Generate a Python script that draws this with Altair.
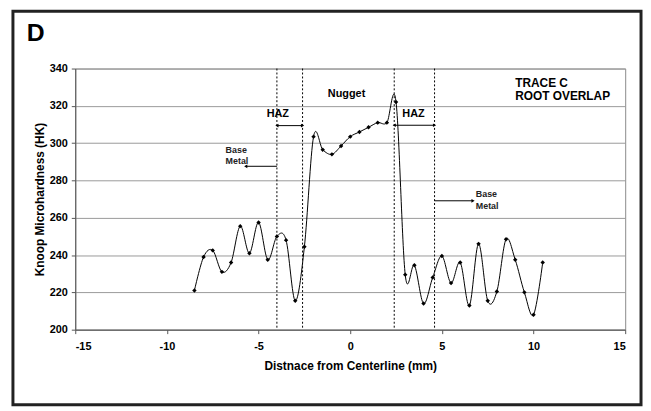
import altair as alt
import pandas as pd

# ---- data ----
x_mm = [-8.5, -8.0, -7.5, -7.0, -6.5, -6.0, -5.5, -5.0, -4.5, -4.0, -3.5, -3.0, -2.5,
        -2.0, -1.5, -1.0, -0.5, 0.0, 0.5, 1.0, 1.5, 2.0, 2.5,
        3.0, 3.5, 4.0, 4.5, 5.0, 5.5, 6.0, 6.5, 7.0, 7.5, 8.0, 8.5, 9.0, 9.5, 10.0, 10.5]
hk = [221, 239, 242.5, 231, 236, 255.5, 241, 257.5, 237.5, 250, 248, 215.5, 244.5,
      303.5, 296.5, 294, 298.5, 303.5, 306, 308.5, 311, 311, 322,
      229.5, 234.5, 214, 228, 239.5, 225, 236, 213, 246, 215.5, 220.5, 248.5, 237.5, 220, 208, 236]

x_ticks = [-15, -10, -5, 0, 5, 10, 15]
y_ticks = [200, 220, 240, 260, 280, 300, 320, 340]

zone_lines = [-4.0, -2.6, 2.4, 4.6]

label_text = ["HAZ", "HAZ", "Nugget", "Base", "Metal", "Base", "Metal"]
label_x = [-3.95, 3.45, -0.2, -6.8, -6.8, 6.85, 6.85]
label_y = [315.6, 315.6, 326.6, 296.3, 290.3, 272.5, 266.3]
label_size = [11, 11, 11, 9, 9, 9, 9]
label_align = ["center", "center", "center", "left", "left", "left", "left"]

trace_text = ["TRACE C", "ROOT OVERLAP"]
trace_x = [9.0, 9.0]
trace_y = [332.0, 325.0]

bracket_x1 = [-4.0, 2.4]
bracket_x2 = [-2.6, 4.6]
bracket_y = [309.4, 309.6]

arrow_x1 = [-5.7, 4.6]
arrow_x2 = [-4.0, 6.7]
arrow_y = [287.6, 269.1]

FONT = "Liberation Sans"

xs = alt.Scale(domain=[-15, 15], nice=False, zero=False)
ys = alt.Scale(domain=[200, 340], nice=False, zero=False)

x_axis = alt.Axis(values=x_ticks, title="Distnace from Centerline (mm)",
                  grid=False, labelOverlap=False,
                  labelExpr="datum.value < 0 ? '-' + abs(datum.value) : '' + datum.value",
                  labelFont=FONT, labelFontSize=11, labelFontWeight="bold", labelColor="black",
                  titleFont=FONT, titleFontSize=12, titleFontWeight="bold", titleColor="black",
                  tickSize=4, tickColor="#555", domainColor="#555", labelPadding=7, titlePadding=9)
y_axis = alt.Axis(values=y_ticks, title="Knoop Microhardness (HK)",
                  grid=True, gridColor="#9a9a9a", gridWidth=1, labelOverlap=False,
                  labelFont=FONT, labelFontSize=11, labelFontWeight="bold", labelColor="black",
                  titleFont=FONT, titleFontSize=12, titleFontWeight="bold", titleColor="black",
                  tickSize=4, tickColor="#555", domainColor="#555", labelPadding=4, titlePadding=3)


def X(field="x:Q"):
    return alt.X(field, scale=xs, axis=x_axis)


def Y(field="y:Q"):
    return alt.Y(field, scale=ys, axis=y_axis)


df = pd.DataFrame({"x": x_mm, "y": hk})
one = pd.DataFrame({"a": [0]})

frame = alt.Chart(one).mark_rect(fill=None, stroke="#222", strokeWidth=3).encode(
    x=alt.value(-63), x2=alt.value(572), y=alt.value(-58), y2=alt.value(340))

title_d = alt.Chart(one).mark_text(text="D", font=FONT, fontSize=25, fontWeight="bold",
                                   align="center", baseline="middle", color="black").encode(
    x=alt.value(-40), y=alt.value(-36))

zones = alt.Chart(pd.DataFrame({"x": zone_lines})).mark_rule(
    color="black", strokeWidth=1, strokeDash=[2, 2]).encode(x=X())

line = alt.Chart(df).mark_line(color="black", strokeWidth=1, interpolate="cardinal").encode(
    x=X(), y=Y())

pts = alt.Chart(df).mark_point(shape="diamond", filled=True, size=20, color="black", opacity=1).encode(
    x=X(), y=Y())

lab_df = pd.DataFrame({"x": label_x, "y": label_y, "t": label_text, "s": label_size, "a": label_align})
labels_c = alt.Chart(lab_df[lab_df.a == "center"]).mark_text(
    font=FONT, fontWeight="bold", align="center", baseline="middle", color="black").encode(
    x=X(), y=Y(), text="t:N", size=alt.Size("s:Q", scale=None, legend=None))
labels_l = alt.Chart(lab_df[lab_df.a == "left"]).mark_text(
    font=FONT, fontWeight="bold", align="left", baseline="middle", color="#222").encode(
    x=X(), y=Y(), text="t:N", size=alt.Size("s:Q", scale=None, legend=None))

trace = alt.Chart(pd.DataFrame({"x": trace_x, "y": trace_y, "t": trace_text})).mark_text(
    font=FONT, fontWeight="bold", fontSize=12, align="left", baseline="middle", color="black").encode(
    x=X(), y=Y(), text="t:N")

br_df = pd.DataFrame({"x": bracket_x1, "x2": bracket_x2, "y": bracket_y})
brackets = alt.Chart(br_df).mark_rule(color="black", strokeWidth=1).encode(
    x=X(), x2="x2:Q", y=Y())
br_left = alt.Chart(br_df).mark_point(shape="triangle-left", filled=True, size=14, color="black", opacity=1).encode(
    x=X(), y=Y())
br_right = alt.Chart(br_df).mark_point(shape="triangle-right", filled=True, size=14, color="black", opacity=1).encode(
    x=X("x2:Q"), y=Y())

ar_df = pd.DataFrame({"x": arrow_x1, "x2": arrow_x2, "y": arrow_y, "d": ["left", "right"]})
arrows = alt.Chart(ar_df).mark_rule(color="black", strokeWidth=1).encode(
    x=X(), x2="x2:Q", y=Y())
ar_l = alt.Chart(ar_df[ar_df.d == "left"]).mark_point(shape="triangle-left", filled=True, size=14, color="black", opacity=1).encode(
    x=X(), y=Y())
ar_r = alt.Chart(ar_df[ar_df.d == "right"]).mark_point(shape="triangle-right", filled=True, size=14, color="black", opacity=1).encode(
    x=X("x2:Q"), y=Y())

chart = alt.layer(
    line, zones, pts, labels_c, labels_l, trace, brackets, br_left, br_right,
    arrows, ar_l, ar_r, frame, title_d
).properties(
    width=556, height=264,
    autosize=alt.AutoSizeParams(type="none"),
    padding={"left": 68, "top": 59, "right": 18, "bottom": 79},
    background="white",
).configure_view(stroke="#8a8a8a", strokeWidth=1)

chart.save("out.html", embed_options={"renderer": "svg", "actions": False})
